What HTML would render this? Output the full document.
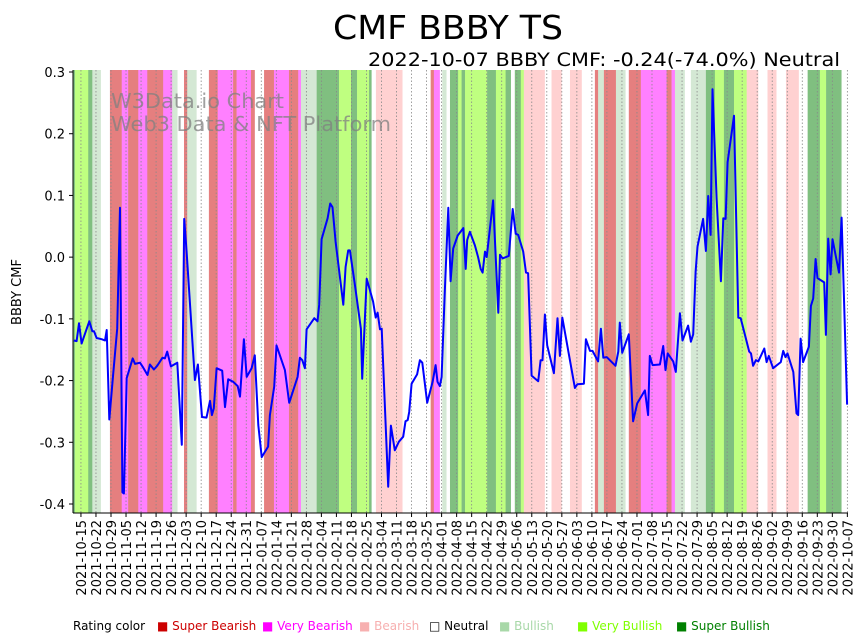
<!DOCTYPE html>
<html><head><meta charset="utf-8"><style>
body{margin:0;background:#fff;width:864px;height:641px;overflow:hidden;font-family:"DejaVu Sans",sans-serif}
svg{display:block}
</style></head><body>
<svg id="chart" width="864" height="641" xmlns="http://www.w3.org/2000/svg" font-family="DejaVu Sans, sans-serif">
<text x="333" y="39" font-size="33" textLength="230" lengthAdjust="spacingAndGlyphs">CMF BBBY TS</text>
<text x="368" y="66" font-size="19" textLength="472" lengthAdjust="spacingAndGlyphs">2022-10-07 BBBY CMF: -0.24(-74.0%) Neutral</text>
<g id="bands"></g>
<g id="grid"></g>
<text x="111" y="108" font-size="20" fill="#808080" fill-opacity="0.75" textLength="173" lengthAdjust="spacingAndGlyphs">W3Data.io Chart</text>
<text x="111" y="131" font-size="20" fill="#808080" fill-opacity="0.75" textLength="280" lengthAdjust="spacingAndGlyphs">Web3 Data &amp; NFT Platform</text>
<g id="series"></g>
<g id="axes"></g>
<text transform="translate(21,292) rotate(-90)" font-size="13" text-anchor="middle">BBBY CMF</text>
<g id="legend" font-size="12">
<text x="73" y="630">Rating color</text>
<text x="157" y="630" fill="#cc0000">■ Super Bearish</text>
<text x="262" y="630" fill="#ff00ff">■ Very Bearish</text>
<text x="359" y="630" fill="#f7b0b0">■ Bearish</text>
<text x="429" y="630" fill="#000">□ Neutral</text>
<text x="499" y="630" fill="#a8d8a8">■ Bullish</text>
<text x="577" y="630" fill="#7fff00">■ Very Bullish</text>
<text x="676" y="630" fill="#008000">■ Super Bullish</text>
</g>
</svg>
<script>
// days since 2021-10-15
const tickLabels=["2021-10-15","2021-10-22","2021-10-29","2021-11-05","2021-11-12","2021-11-19","2021-11-26","2021-12-03","2021-12-10","2021-12-17","2021-12-24","2021-12-31","2022-01-07","2022-01-14","2022-01-21","2022-01-28","2022-02-04","2022-02-11","2022-02-18","2022-02-25","2022-03-04","2022-03-11","2022-03-18","2022-03-25","2022-04-01","2022-04-08","2022-04-15","2022-04-22","2022-04-29","2022-05-06","2022-05-13","2022-05-20","2022-05-27","2022-06-03","2022-06-10","2022-06-17","2022-06-24","2022-07-01","2022-07-08","2022-07-15","2022-07-22","2022-07-29","2022-08-05","2022-08-12","2022-08-19","2022-08-26","2022-09-02","2022-09-09","2022-09-16","2022-09-23","2022-09-30","2022-10-07"];
const yTicks=[0.3,0.2,0.1,0.0,-0.1,-0.2,-0.3,-0.4];
const bandStart=[-3.6,-2.8,3.4,5.3,9.3,13.5,19,22,26.7,30.9,38.3,42.5,45,48,49.5,53.9,59.6,63.7,70.9,72.5,79.2,81,85.3,89.9,96.9,101.2,102.5,109.8,120.2,125.8,128.6,134.2,135.4,137.4,149.8,162.9,164.4,167.2,168.3,170.3,171.9,175.7,177.3,178.9,189.2,193.3,197.8,200.3,202.1,204.9,206.3,216.1,219.2,223.9,227.8,233.3,239.4,240.9,243.6,249.2,253.7,255.2,260.8,272.8,275.1,276.7,281.3,284.1,291.1,295.3,299.5,304.2,310.1,315.5,319.8,324,328.4,334.4,338.5,344.2,347.1,354.3];
const bandRating=["SB","VB","SB","B","N","SuB","VBe","SuB","VBe","SuB","VBe","B","N","SuB","B","N","SuB","VBe","SuB","VBe","SuB","N","SuB","VBe","SuB","VBe","B","SB","VB","SB","VB","SB","N","Be","N","SuB","VBe","N","B","N","SB","VB","SB","VB","SB","VB","SB","N","SB","VB","Be","N","Be","N","Be","N","SuB","B","SuB","B","N","SuB","VBe","SuB","VBe","B","N","B","SB","VB","SB","VB","Be","N","Be","N","Be","N","SB","VB","SB","N"];
const seriesDays=[-3.3,-2.0,-0.9,0.3,1.9,3.9,5.3,6.1,7.3,9.6,11.2,12.0,13.2,15.0,16.9,18.2,19.3,20.0,21.3,24.1,25.2,27.5,29.0,31.0,32.1,34.0,35.5,38.0,39.1,40.2,41.9,44.9,47.0,48.1,49.2,53.1,54.5,56.4,58.5,60.1,61.0,61.9,63.2,65.8,67.1,68.6,70.9,73.0,74.1,75.9,77.2,79.5,81.0,82.6,84.2,87.2,88.0,90.0,91.1,95.0,97.0,100.9,102.0,103.1,104.3,105.1,108.7,110.2,111.0,112.1,114.9,116.1,117.2,118.6,122.2,123.3,124.5,125.3,127.6,130.4,131.0,133.1,136.1,137.3,138.2,139.3,140.1,143.1,144.4,146.2,148.1,150.1,151.2,152.2,152.9,154.0,156.6,157.9,159.0,161.3,163.8,165.2,166.1,167.2,168.0,169.5,171.1,172.2,173.4,175.5,178.1,179.2,179.9,181.2,183.5,185.0,186.2,187.1,188.2,189.0,192.0,194.4,195.2,196.4,199.3,201.1,202.5,203.7,206.0,207.3,208.3,209.9,213.0,214.1,215.0,216.1,217.2,220.3,222.0,223.1,224.2,230.1,231.2,234.3,235.2,237.1,238.3,240.9,242.2,243.3,244.9,249.0,250.3,251.0,252.1,255.2,257.2,259.1,262.7,264.2,265.0,266.3,269.7,271.2,272.3,273.3,275.9,277.1,279.0,280.2,282.8,284.1,285.2,286.3,287.2,289.8,291.1,292.2,293.3,294.2,296.1,298.1,299.2,300.3,301.2,304.2,306.2,307.3,310.1,311.3,312.1,313.1,314.4,315.5,318.3,319.4,320.4,322.4,326.0,327.1,328.2,329.1,331.8,333.3,334.1,335.2,336.4,339.1,340.0,341.1,342.2,343.1,346.2,347.0,348.1,349.2,350.1,353.1,354.3,356.9];
const seriesValues=[-0.135,-0.136,-0.107,-0.140,-0.124,-0.104,-0.120,-0.120,-0.131,-0.133,-0.135,-0.118,-0.263,-0.191,-0.116,0.080,-0.381,-0.383,-0.196,-0.164,-0.173,-0.171,-0.179,-0.191,-0.174,-0.182,-0.176,-0.163,-0.164,-0.153,-0.177,-0.171,-0.304,0.062,0.009,-0.199,-0.174,-0.259,-0.260,-0.233,-0.256,-0.245,-0.180,-0.184,-0.243,-0.198,-0.202,-0.209,-0.226,-0.133,-0.194,-0.180,-0.159,-0.272,-0.324,-0.307,-0.256,-0.210,-0.143,-0.183,-0.236,-0.194,-0.163,-0.167,-0.180,-0.117,-0.099,-0.104,-0.077,0.029,0.063,0.087,0.081,0.025,-0.077,-0.016,0.011,0.011,-0.045,-0.116,-0.197,-0.035,-0.072,-0.098,-0.090,-0.117,-0.116,-0.372,-0.273,-0.313,-0.299,-0.291,-0.266,-0.264,-0.251,-0.205,-0.190,-0.167,-0.171,-0.236,-0.202,-0.175,-0.202,-0.209,-0.194,-0.056,0.080,-0.039,0.014,0.035,0.047,-0.019,0.028,0.041,0.019,0.0,-0.019,-0.025,0.009,0.0,0.092,-0.090,0.004,-0.002,0.002,0.078,0.038,0.036,0.009,-0.025,-0.026,-0.192,-0.201,-0.167,-0.167,-0.093,-0.143,-0.188,-0.099,-0.160,-0.098,-0.212,-0.206,-0.205,-0.133,-0.152,-0.152,-0.169,-0.116,-0.163,-0.162,-0.176,-0.153,-0.106,-0.155,-0.125,-0.266,-0.237,-0.216,-0.256,-0.160,-0.175,-0.174,-0.144,-0.183,-0.156,-0.169,-0.186,-0.091,-0.135,-0.111,-0.137,-0.125,-0.024,0.017,0.062,0.010,0.099,0.036,0.272,0.095,-0.039,0.063,0.062,0.154,0.229,-0.098,-0.099,-0.137,-0.153,-0.156,-0.176,-0.167,-0.169,-0.148,-0.170,-0.160,-0.180,-0.170,-0.152,-0.162,-0.156,-0.186,-0.253,-0.256,-0.132,-0.170,-0.145,-0.079,-0.067,-0.003,-0.034,-0.041,-0.126,0.030,-0.028,0.029,-0.025,0.064,-0.239];

const NS='http://www.w3.org/2000/svg';
const L=73,R=848,T=70,B=513;
const dayMin=-3.7,dayMax=357.3,vMax=0.3,vMin=-0.4;
const yTop=72,yBot=504;
function xs(d){return L+(d-dayMin)/(dayMax-dayMin)*(R-L);}
function ys(v){return yTop+(vMax-v)/(vMax-vMin)*(yBot-yTop);}
const colors={SuB:"#e57f7f",VBe:"#ff80ff",Be:"#ffd1d1",N:"#ffffff",B:"#d4e8d4",VB:"#bfff80",SB:"#80bf80"};
function mk(tag,attrs,parent){const e=document.createElementNS(NS,tag);for(const k in attrs)e.setAttribute(k,attrs[k]);parent.appendChild(e);return e;}

const gB=document.getElementById('bands');
for(let i=0;i<bandStart.length;i++){
  const s=bandStart[i],e=i+1<bandStart.length?bandStart[i+1]:dayMax;
  const r=mk('rect',{x:xs(s),y:T,width:Math.max(0,xs(e)-xs(s)+0.3),height:B-T,fill:colors[bandRating[i]]},gB);
  
  
}
const gG=document.getElementById('grid'), gA=document.getElementById('axes');
tickLabels.forEach((t,i)=>{
  const x=xs(i*7);
  const l=mk('line',{x1:x,x2:x,y1:T,y2:B,stroke:'#888','stroke-width':0.8,'stroke-dasharray':'1.5,2'},gG);
  
  
  mk('line',{x1:x,x2:x,y1:B,y2:B+4,stroke:'#000'},gA);
  const tx=mk('text',{transform:`translate(${x+5},${B+7}) rotate(-90)`,'font-size':13,'text-anchor':'end'},gA);
  tx.textContent=t;
  
  
});
yTicks.forEach(v=>{
  const y=ys(v);
  mk('line',{x1:L-4,x2:L,y1:y,y2:y,stroke:'#000'},gA);
  const tx=mk('text',{x:L-8,y:y+5,'font-size':13,'text-anchor':'end'},gA);
  tx.textContent=v.toFixed(1);
  
  
});
mk('line',{x1:L,x2:L,y1:T,y2:B,stroke:'#000','stroke-width':1},gA);
mk('line',{x1:L,x2:R,y1:B,y2:B,stroke:'#000','stroke-width':1},gA);

const pts=seriesDays.map((d,i)=>xs(d).toFixed(1)+','+ys(seriesValues[i]).toFixed(1)).join(' ');
const pl=mk('polyline',{points:pts,fill:'none',stroke:'#0000ff','stroke-width':2,'stroke-linejoin':'round'},document.getElementById('series'));


</script>
</body></html>
